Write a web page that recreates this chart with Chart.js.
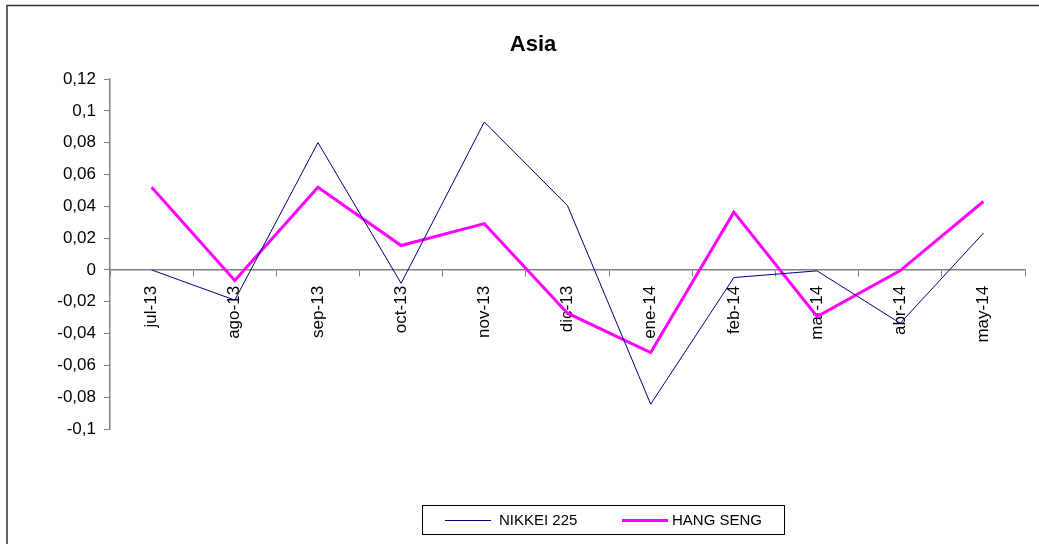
<!DOCTYPE html>
<html>
<head>
<meta charset="utf-8">
<title>Asia</title>
<script src="https://cdn.jsdelivr.net/npm/chart.js@4.4.0/dist/chart.umd.min.js"></script>
<style>
  html, body { margin: 0; padding: 0; background: #fff; }
  #wrap { position: relative; width: 1039px; height: 544px; }
</style>
</head>
<body>
<div id="wrap"><canvas id="chart"></canvas></div>
<script>
const chartTitle = "Asia";
const months = ["jul-13", "ago-13", "sep-13", "oct-13", "nov-13", "dic-13",
  "ene-14", "feb-14", "mar-14", "abr-14", "may-14"];
const nikkei = [0, -0.019, 0.08, -0.0084, 0.093, 0.0404, -0.0844, -0.0048, -0.0006, -0.0335, 0.0231];
const hangSeng = [0.052, -0.0067, 0.052, 0.0153, 0.0291, -0.0272, -0.052, 0.0363, -0.0293, -0.0004, 0.043];
const yTicks = [-0.1, -0.08, -0.06, -0.04, -0.02, 0, 0.02, 0.04, 0.06, 0.08, 0.1, 0.12];

const FONT = "'Liberation Sans', Arial, sans-serif";

function formatTick(value) {
  const v = Math.round(value * 100) / 100;
  return String(v).replace(".", ",");
}

// chart frame, title and boxed legend the way the spreadsheet drew them
const decorations = {
  id: "decorations",
  beforeDraw(chart) {
    const ctx = chart.ctx;
    ctx.save();
    ctx.fillStyle = "#fff";
    ctx.fillRect(0, 0, chart.width, chart.height);
    ctx.strokeStyle = "#333";
    ctx.lineWidth = 1.5;
    ctx.strokeRect(7, 5.5, chart.width + 20, chart.height + 20);
    ctx.restore();
  },
  afterDraw(chart) {
    const ctx = chart.ctx;
    ctx.save();
    ctx.fillStyle = "#000";
    ctx.font = "bold 22px " + FONT;
    ctx.textAlign = "center";
    ctx.textBaseline = "middle";
    ctx.fillText(chartTitle, 533, 45);

    ctx.strokeStyle = "#000";
    ctx.lineWidth = 1;
    ctx.strokeRect(422.5, 505.5, 362, 29);
    ctx.font = "15px " + FONT;
    ctx.textAlign = "left";
    const slots = [
      { x1: 445, x2: 491, tx: 499 },
      { x1: 622, x2: 668, tx: 672 },
    ];
    chart.data.datasets.forEach((ds, i) => {
      const s = slots[i];
      ctx.strokeStyle = ds.borderColor;
      ctx.lineWidth = ds.borderWidth;
      ctx.beginPath();
      ctx.moveTo(s.x1, 520.5);
      ctx.lineTo(s.x2, 520.5);
      ctx.stroke();
      ctx.fillStyle = "#000";
      ctx.fillText(ds.label, s.tx, 521);
    });
    ctx.restore();
  },
};

new Chart(document.getElementById("chart"), {
  type: "line",
  data: {
    labels: months,
    datasets: [
      {
        label: "NIKKEI 225",
        data: nikkei,
        borderColor: "#000080",
        borderWidth: 1,
        pointRadius: 0,
        tension: 0,
      },
      {
        label: "HANG SENG",
        data: hangSeng,
        borderColor: "#ff00ff",
        borderWidth: 3,
        pointRadius: 0,
        tension: 0,
      },
    ],
  },
  options: {
    responsive: true,
    maintainAspectRatio: false,
    animation: false,
    layout: { padding: { left: 28, right: 14, top: 79, bottom: 115 } },
    plugins: {
      legend: { display: false },
      title: { display: false },
      tooltip: { enabled: false },
    },
    scales: {
      x: {
        position: { y: 0 },
        offset: true,
        grid: {
          offset: true,
          drawOnChartArea: false,
          drawTicks: true,
          tickLength: 6,
          color: "#808080",
        },
        border: { display: true, color: "#808080", width: 1.5 },
        ticks: {
          color: "#000",
          font: { family: FONT, size: 17 },
          minRotation: 90,
          maxRotation: 90,
          autoSkip: false,
          padding: 10,
        },
      },
      y: {
        min: -0.1,
        max: 0.12,
        afterFit(scale) {
          scale.width = 82;
        },
        afterBuildTicks(scale) {
          scale.ticks = yTicks.map((v) => ({ value: v }));
        },
        grid: {
          drawOnChartArea: false,
          drawTicks: true,
          tickLength: 6,
          color: "#808080",
        },
        border: { display: true, color: "#808080", width: 1.5 },
        ticks: {
          color: "#000",
          font: { family: FONT, size: 17 },
          padding: 8,
          callback: (value) => formatTick(value),
        },
      },
    },
  },
  plugins: [decorations],
});
</script>
</body>
</html>
